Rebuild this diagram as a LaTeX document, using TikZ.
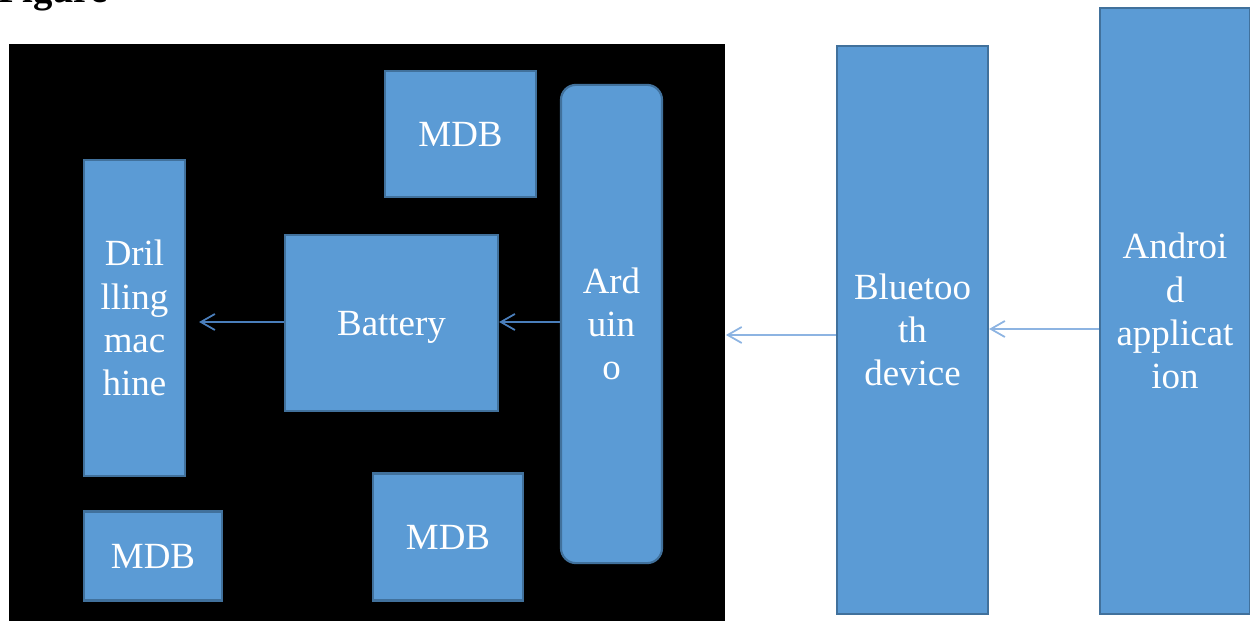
\documentclass[tikz,border=0pt]{standalone}
\usepackage{fontspec}
\setmainfont{Liberation Serif}
\usetikzlibrary{arrows.meta}
\definecolor{boxblue}{HTML}{5B9BD5}
\definecolor{boxedge}{HTML}{41719C}
\definecolor{darkarrow}{HTML}{4A7EBB}
\definecolor{lightarrow}{HTML}{8DB4E2}

\begin{document}
\begin{tikzpicture}[
  x=0.01cm, y=-0.01cm,
  >={Straight Barb[length=1.4mm,width=1.6mm]},
  bloc/.style={draw=boxedge,fill=boxblue,text=white,align=center,inner sep=0pt,
    line width=0.6pt,font=\fontsize{10.5}{12.3}\selectfont},
  fleche/.style={->,line width=0.5pt},
]
  \useasboundingbox (0,0) rectangle (1250,621);

  % Titre (coupe en haut)
  \node[anchor=base west,inner sep=0pt,font=\bfseries\fontsize{11}{13}\selectfont] (titre) at (-2,2) {Figure};

  % Fond noir
  \node[fill=black,inner sep=0pt,minimum width=7.16cm,minimum height=5.77cm] (robot) at (367,332.5) {};

  % Blocs
  \node[bloc,minimum width=1.01cm,minimum height=3.16cm] (drill) at (134.5,318) {Dril\\lling\\mac\\hine};
  \node[bloc,text depth=0pt,minimum width=2.13cm,minimum height=1.76cm] (battery) at (391.5,323) {Battery};
  \node[bloc,minimum width=1.51cm,minimum height=1.26cm] (mdbhaut) at (460.5,134) {MDB};
  \node[bloc,rounded corners=0.15cm,minimum width=1.01cm,minimum height=4.78cm] (arduino) at (611.5,324) {Ard\\uin\\o};
  \node[bloc,minimum width=1.38cm,minimum height=0.89cm] (mdbgauche) at (153,556) {MDB};
  \node[bloc,minimum width=1.50cm,minimum height=1.27cm] (mdbmilieu) at (448,537) {MDB};
  \node[bloc,minimum width=1.51cm,minimum height=5.68cm] (bt) at (912.5,330) {Bluetoo\\th\\device};
  \node[bloc,minimum width=1.50cm,minimum height=6.05cm] (android) at (1175,311) {Androi\\d\\applicat\\ion};

  % Fleches
  \draw[fleche,darkarrow] (arduino.west |- 0,322) -- (battery.east |- 0,322);
  \draw[fleche,darkarrow,shorten >=0.13cm] (battery.west |- 0,322) -- (drill.east |- 0,322);
  \draw[fleche,lightarrow] (bt.west |- 0,335) -- (robot.east |- 0,335);
  \draw[fleche,lightarrow] (android.west |- 0,329) -- (bt.east |- 0,329);
\end{tikzpicture}
\end{document}
